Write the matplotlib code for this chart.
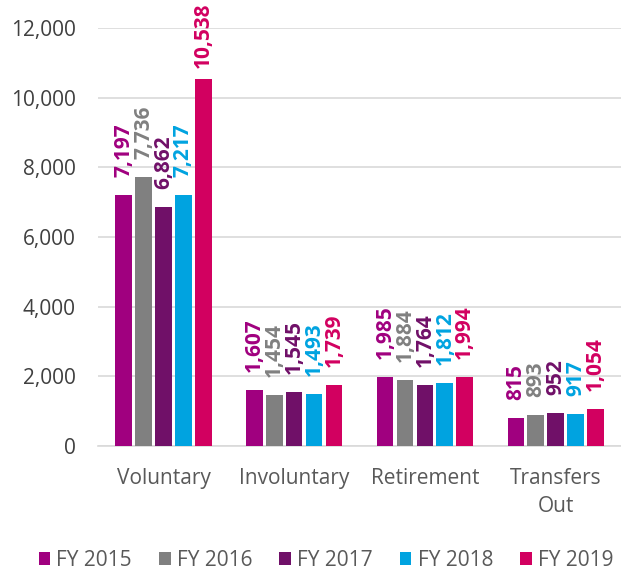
import numpy as np
import matplotlib.pyplot as plt

categories = ['Voluntary', 'Involuntary', 'Retirement', 'Transfers\nOut']
years = ['FY 2015', 'FY 2016', 'FY 2017', 'FY 2018', 'FY 2019']
fy2015 = [7197, 1607, 1985, 815]
fy2016 = [7736, 1454, 1884, 893]
fy2017 = [6862, 1545, 1764, 952]
fy2018 = [7217, 1493, 1812, 917]
fy2019 = [10538, 1739, 1994, 1054]
series = [fy2015, fy2016, fy2017, fy2018, fy2019]
colors = ['#A0007F', '#808080', '#701068', '#00A3E0', '#D20060']

plt.rcParams['font.family'] = ['Open Sans', 'DejaVu Sans']

fig = plt.figure(figsize=(6.21, 5.74), dpi=100)
ax = fig.add_axes([0.158, 0.223, 0.842, 0.728])

x = np.arange(len(categories))
step = 0.152
width = 0.127
labels = []
for i, (vals, c, name) in enumerate(zip(series, colors, years)):
    pos = x + (i - 2) * step
    ax.bar(pos, vals, width, color=c, label=name, zorder=3)
    for p, v in zip(pos, vals):
        t = ax.annotate(f'{v:,}', (p, v), xytext=(0, 13), textcoords='offset points',
                        rotation=90, ha='center', va='bottom', color=c,
                        fontsize=15, fontweight='bold', annotation_clip=False)
        labels.append(t)

ax.set_xlim(-0.5, len(categories) - 0.5)
ax.set_ylim(0, 12000)
ax.set_yticks(range(0, 12001, 2000))
ax.yaxis.set_major_formatter(plt.FuncFormatter(lambda v, _: f'{int(v):,}'))
ax.set_xticks(x)
ax.set_xticklabels(categories, linespacing=1.4)
ax.tick_params(axis='x', length=0, labelsize=15, colors='#595959', pad=16)
ax.tick_params(axis='y', length=0, labelsize=15, colors='#404040', pad=16)
ax.grid(axis='y', color='#D9D9D9', linewidth=1.2, zorder=0)
for s in ['top', 'right', 'left']:
    ax.spines[s].set_visible(False)
ax.spines['bottom'].set_color('#D9D9D9')
ax.spines['bottom'].set_linewidth(1.2)

fig.legend(loc='lower center', bbox_to_anchor=(0.525, -0.027), ncol=5, frameon=False,
           fontsize=15, handlelength=0.55, handleheight=0.55, handletextpad=0.3,
           columnspacing=1.3, labelcolor='#595959')

# keep labels that would run off the top inside the figure
fig.canvas.draw()
r = fig.canvas.get_renderer()
H = fig.bbox.height
for t in labels:
    bb = t.get_window_extent(r)
    if bb.y1 > H - 2:
        t.xyann = (0, 13 - (bb.y1 - H + 2) * 72 / fig.dpi)

fig.savefig('out.png', dpi=100)
